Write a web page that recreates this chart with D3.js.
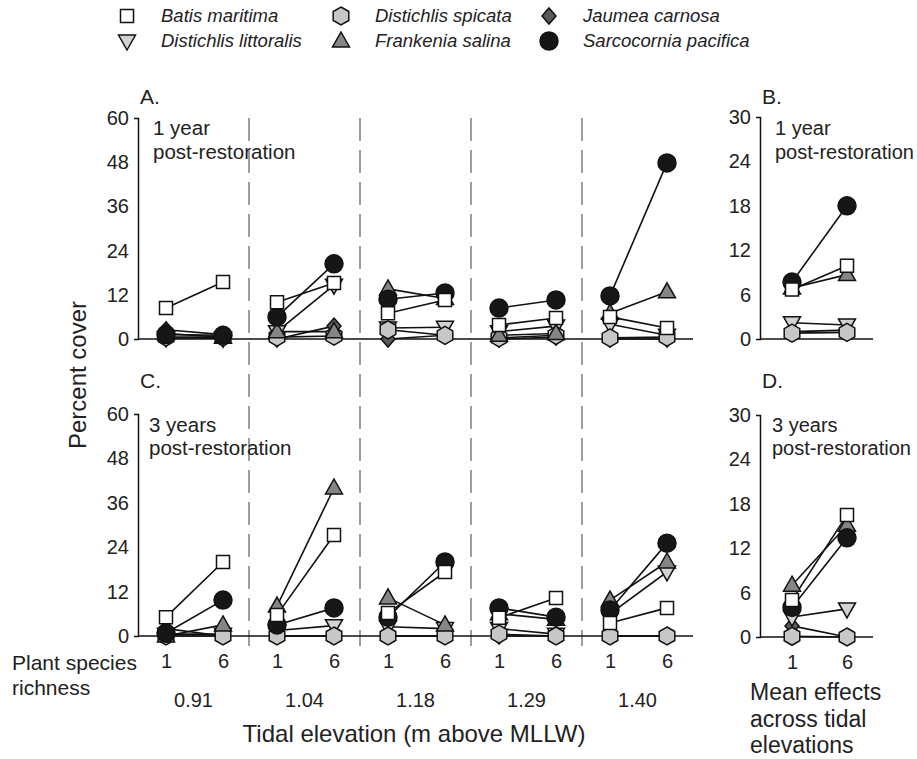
<!DOCTYPE html>
<html>
<head>
<meta charset="utf-8">
<title>Percent cover by species richness</title>
<script src="https://d3js.org/d3.v7.min.js"></script>
<style>
  body { margin: 0; background: #fff; }
  svg { font-family: "Liberation Sans", Arial, sans-serif; }
  .axis text { font-size: 20px; fill: #222; }
  .axis path { stroke: #111; stroke-width: 1.5; }
</style>
</head>
<body>
<script>
// ---- data ----
var species = ["Batis maritima", "Distichlis littoralis", "Distichlis spicata",
               "Frankenia salina", "Jaumea carnosa", "Sarcocornia pacifica"];
var elevations = ["0.91", "1.04", "1.18", "1.29", "1.40"];
var richness = ["1", "6"];
var yTicksMain = [0, 12, 24, 36, 48, 60];
var yTicksMean = [0, 6, 12, 18, 24, 30];

// per elevation: [richness 1, richness 6], 1 year post-restoration
var batis1      = [8.4, 15.5, 10.0, 15.2, 7.0, 10.6, 3.8, 5.7, 6.0, 3.0];
var littoralis1 = [0.3, 0.2, 2.0, 14.6, 3.0, 3.2, 2.0, 3.5, 4.0, 1.0];
var spicata1    = [0.5, 0.5, 0.5, 0.8, 2.5, 1.0, 0.3, 1.0, 0.3, 0.5];
var frankenia1  = [1.5, 0.5, 2.0, 2.0, 13.6, 11.0, 1.0, 1.5, 7.0, 12.8];
var jaumea1     = [2.5, 1.2, 0.0, 3.5, 0.0, 1.0, 0.0, 0.5, 0.0, 0.0];
var sarco1      = [1.2, 1.0, 6.0, 20.4, 10.8, 12.5, 8.4, 10.6, 11.7, 47.8];

// 3 years post-restoration
var batis3      = [5.1, 20.0, 5.7, 27.3, 6.2, 17.3, 4.9, 10.3, 3.5, 7.6];
var littoralis3 = [0.5, 0.5, 1.5, 2.8, 2.5, 2.0, 2.0, 0.5, 6.0, 17.3];
var spicata3    = [0.0, 0.0, 0.0, 0.0, 0.0, 0.0, 0.5, 0.0, 0.0, 0.0];
var frankenia3  = [0.0, 3.0, 8.1, 40.0, 10.3, 3.0, 6.0, 4.5, 9.7, 20.0];
var jaumea3     = [2.0, 0.0, 0.0, 0.0, 0.0, 0.0, 0.0, 0.0, 0.0, 0.0];
var sarco3      = [0.8, 9.7, 3.0, 7.6, 5.1, 20.0, 7.6, 5.1, 7.0, 25.1];

// mean effects across tidal elevations [richness 1, richness 6]
var batisMean1      = [6.7, 9.9];
var littoralisMean1 = [2.2, 1.9];
var spicataMean1    = [0.8, 0.9];
var frankeniaMean1  = [6.9, 8.7];
var jaumeaMean1     = [1.0, 1.2];
var sarcoMean1      = [7.7, 18.0];

var batisMean3      = [5.0, 16.5];
var littoralisMean3 = [2.7, 3.8];
var spicataMean3    = [0.1, 0.0];
var frankeniaMean3  = [7.0, 15.1];
var jaumeaMean3     = [1.5, 0.0];
var sarcoMean3      = [4.0, 13.4];

// ---- styling per species ----
var shapes = ["square", "triDown", "hex", "triUp", "diamond", "circle"];
var fills  = ["#ffffff", "#d2d2d2", "#c5c7c9", "#858585", "#5a5a5a", "#161616"];

var series = species.map(function(name, i) {
  return {
    name: name, shape: shapes[i], fill: fills[i],
    y1: [batis1, littoralis1, spicata1, frankenia1, jaumea1, sarco1][i],
    y3: [batis3, littoralis3, spicata3, frankenia3, jaumea3, sarco3][i],
    m1: [batisMean1, littoralisMean1, spicataMean1, frankeniaMean1, jaumeaMean1, sarcoMean1][i],
    m3: [batisMean3, littoralisMean3, spicataMean3, frankeniaMean3, jaumeaMean3, sarcoMean3][i]
  };
});
// drawing order (last on top)
var drawOrder = [4, 1, 2, 3, 5, 0];

function shapePath(shape) {
  var p = d3.path();
  if (shape === "square") p.rect(-6.5, -6.5, 13, 13);
  else if (shape === "circle") { p.moveTo(9, 0); p.arc(0, 0, 9, 0, 2 * Math.PI); }
  else if (shape === "triUp") { p.moveTo(0, -9); p.lineTo(8.5, 6); p.lineTo(-8.5, 6); p.closePath(); }
  else if (shape === "triDown") { p.moveTo(0, 9); p.lineTo(8.5, -6); p.lineTo(-8.5, -6); p.closePath(); }
  else if (shape === "diamond") { p.moveTo(0, -8); p.lineTo(7, 0); p.lineTo(0, 8); p.lineTo(-7, 0); p.closePath(); }
  else if (shape === "hex") {
    for (var k = 0; k < 6; k++) {
      var a = (-90 + 60 * k) * Math.PI / 180;
      if (k === 0) p.moveTo(9 * Math.cos(a), 9 * Math.sin(a));
      else p.lineTo(9 * Math.cos(a), 9 * Math.sin(a));
    }
    p.closePath();
  }
  return p.toString();
}

var svg = d3.select("body").append("svg")
  .attr("width", 917)
  .attr("height", 759);

// ---- scales ----
var xBand = d3.scaleBand().domain(elevations).range([138, 693]);
var xRich = d3.scalePoint().domain(richness).range([28, 85]);
var xMean = d3.scalePoint().domain(richness).range([792, 847]);

var yA = d3.scaleLinear().domain([0, 60]).range([339, 118]);
var yC = d3.scaleLinear().domain([0, 60]).range([636, 414]);
var yB = d3.scaleLinear().domain([0, 30]).range([339, 117]);
var yD = d3.scaleLinear().domain([0, 30]).range([637, 415]);

// dashed separators between elevations
svg.append("g").selectAll("line")
  .data(elevations.slice(1))
  .enter().append("line")
  .attr("x1", function(d) { return xBand(d); })
  .attr("x2", function(d) { return xBand(d); })
  .attr("y1", 118).attr("y2", 646)
  .attr("stroke", "#9e9e9e")
  .attr("stroke-width", 2)
  .attr("stroke-dasharray", "23,9");

function yAxis(y, ticks, x0) {
  return svg.append("g").attr("class", "axis")
    .attr("transform", "translate(" + x0 + ",0)")
    .call(d3.axisLeft(y).tickValues(ticks).tickSizeInner(0).tickSizeOuter(4).tickPadding(9));
}

function baseline(y, x1, x2) {
  svg.append("line")
    .attr("x1", x1).attr("x2", x2)
    .attr("y1", y(0)).attr("y2", y(0))
    .attr("stroke", "#111").attr("stroke-width", 1.5);
}

function drawPoints(y, key, xpos, groups) {
  var lines = svg.append("g");
  var marks = svg.append("g");
  drawOrder.forEach(function(si) {
    var vals = series[si][key];
    for (var g = 0; g < groups; g++) {
      lines.append("line")
        .attr("x1", xpos(g, 0)).attr("y1", y(vals[g * 2]))
        .attr("x2", xpos(g, 1)).attr("y2", y(vals[g * 2 + 1]))
        .attr("stroke", "#111").attr("stroke-width", 1.6);
    }
  });
  drawOrder.forEach(function(si) {
    var s = series[si];
    marks.selectAll(null)
      .data(s[key])
      .enter().append("path")
      .attr("d", shapePath(s.shape))
      .attr("transform", function(d, i) {
        return "translate(" + xpos(Math.floor(i / 2), i % 2) + "," + y(d) + ")";
      })
      .attr("fill", s.fill)
      .attr("stroke", "#111")
      .attr("stroke-width", 1.5);
  });
}

function xMain(g, r) { return xBand(elevations[g]) + xRich(richness[r]); }
function xM(g, r) { return xMean(richness[r]); }

// panel A & C
yAxis(yA, yTicksMain, 138);
baseline(yA, 138, 693);
drawPoints(yA, "y1", xMain, 5);

yAxis(yC, yTicksMain, 138);
baseline(yC, 138, 693);
drawPoints(yC, "y3", xMain, 5);

// panel B & D
yAxis(yB, yTicksMean, 760);
baseline(yB, 760, 873);
drawPoints(yB, "m1", xM, 1);

yAxis(yD, yTicksMean, 760);
baseline(yD, 760, 873);
drawPoints(yD, "m3", xM, 1);

// richness tick labels under C and D
elevations.forEach(function(e) {
  svg.append("g").attr("class", "axis")
    .attr("transform", "translate(" + xBand(e) + "," + yC(0) + ")")
    .call(d3.axisBottom(xRich).tickSize(0).tickPadding(18))
    .select(".domain").remove();
});
svg.append("g").attr("class", "axis")
  .attr("transform", "translate(0," + yD(0) + ")")
  .call(d3.axisBottom(xMean).tickSize(0).tickPadding(18))
  .select(".domain").remove();

// elevation labels
svg.append("g").attr("class", "axis")
  .attr("transform", "translate(0," + yC(0) + ")")
  .call(d3.axisBottom(xBand).tickSize(0).tickPadding(57))
  .select(".domain").remove();

// ---- text ----
function label(x, y, txt, size, anchor) {
  return svg.append("text")
    .attr("x", x).attr("y", y)
    .attr("font-size", size)
    .attr("fill", "#222")
    .attr("text-anchor", anchor || "start")
    .text(txt);
}

label(140, 104, "A.", 21);
label(762, 104, "B.", 21);
label(140, 388, "C.", 21);
label(762, 388, "D.", 21);

label(153, 135, "1 year", 20.5);
label(153, 159, "post-restoration", 20.5);
label(775, 135, "1 year", 20);
label(775, 159, "post-restoration", 20);
label(149, 432, "3 years", 20.5);
label(149, 455, "post-restoration", 20.5);
label(772, 432, "3 years", 20);
label(772, 455, "post-restoration", 20);

svg.append("text")
  .attr("transform", "translate(86,375) rotate(-90)")
  .attr("text-anchor", "middle")
  .attr("font-size", 24)
  .attr("fill", "#222")
  .text("Percent cover");

label(12, 670, "Plant species", 21);
label(12, 695, "richness", 21);
label(414, 742, "Tidal elevation (m above MLLW)", 24, "middle");
label(750, 700, "Mean effects", 23);
label(750, 727, "across tidal", 23);
label(750, 753, "elevations", 23);

// ---- legend ----
var legX = [127, 127, 341, 341, 549, 549];
var legY = [16, 41, 16, 41, 16, 41];
var legend = svg.append("g");
series.forEach(function(s, i) {
  legend.append("path")
    .attr("d", shapePath(s.shape))
    .attr("transform", "translate(" + legX[i] + "," + legY[i] + ")")
    .attr("fill", s.fill)
    .attr("stroke", "#111")
    .attr("stroke-width", 1.5);
  legend.append("text")
    .attr("x", legX[i] + 34)
    .attr("y", legY[i] + 6)
    .attr("font-size", 18.5)
    .attr("font-style", "italic")
    .attr("fill", "#222")
    .text(s.name);
});
</script>
</body>
</html>
